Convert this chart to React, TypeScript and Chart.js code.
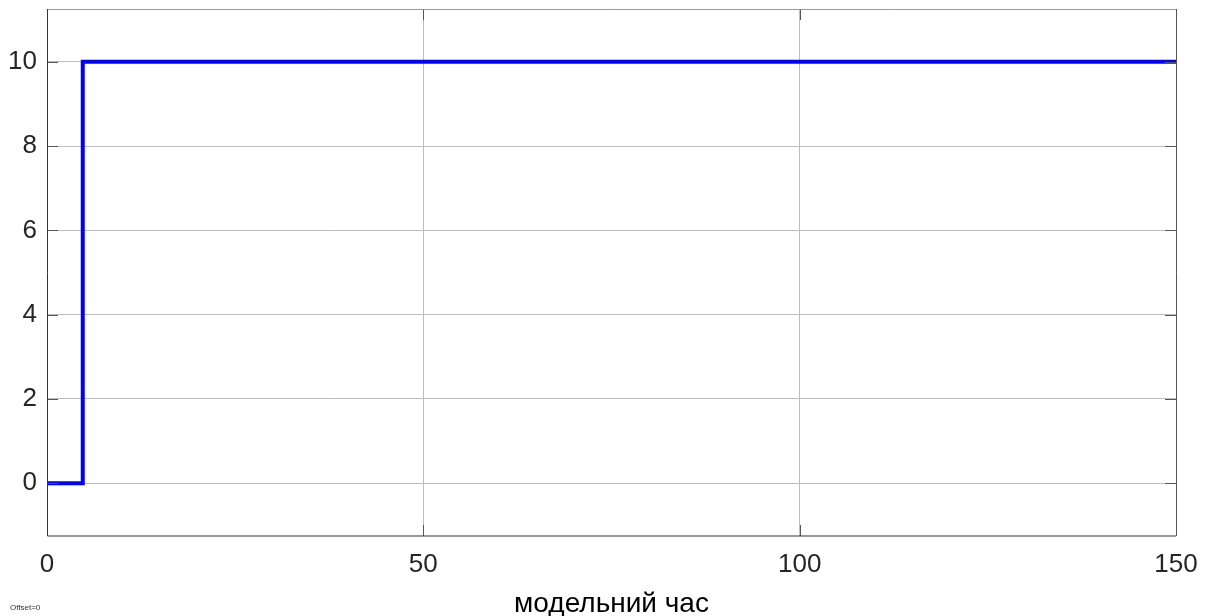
import React, { useEffect, useRef } from "react";
import { Chart, registerables } from "chart.js";

Chart.register(...registerables);

const stepX: number[] = [0, 4.75, 4.75, 150];
const stepY: number[] = [0, 0, 10, 10];
const xTicks: number[] = [0, 50, 100, 150];
const yTicks: number[] = [0, 2, 4, 6, 8, 10];
const xTitle = "модельний час";
const offsetNote = "Offset=0";

const boxPlugin = {
  id: "boxPlugin",
  afterDraw(chart: any) {
    const { ctx, chartArea } = chart;
    const { left, right, top, bottom } = chartArea;
    const xs = chart.scales.x;
    const ys = chart.scales.y;
    ctx.save();
    ctx.lineWidth = 1;
    ctx.strokeStyle = "#555555";
    ctx.beginPath();
    for (const t of yTicks) {
      const py = Math.round(ys.getPixelForValue(t)) + 0.5;
      ctx.moveTo(left, py);
      ctx.lineTo(left + 11, py);
      ctx.moveTo(right, py);
      ctx.lineTo(right - 11, py);
    }
    for (const t of xTicks) {
      const px = Math.round(xs.getPixelForValue(t)) + 0.5;
      ctx.moveTo(px, bottom);
      ctx.lineTo(px, bottom - 11);
      ctx.moveTo(px, top);
      ctx.lineTo(px, top + 11);
    }
    ctx.stroke();
    ctx.strokeStyle = "#9a9a9a";
    ctx.beginPath();
    ctx.moveTo(left, Math.round(top) + 0.5);
    ctx.lineTo(right, Math.round(top) + 0.5);
    ctx.stroke();
    ctx.strokeStyle = "#555555";
    ctx.beginPath();
    ctx.moveTo(Math.round(right) + 0.5, top);
    ctx.lineTo(Math.round(right) + 0.5, bottom);
    ctx.stroke();
    ctx.strokeStyle = "#333333";
    ctx.beginPath();
    ctx.moveTo(Math.round(left) + 0.5, top);
    ctx.lineTo(Math.round(left) + 0.5, bottom);
    ctx.lineTo(right, bottom);
    ctx.stroke();
    ctx.restore();
  },
};

export default function App() {
  const ref = useRef<HTMLCanvasElement | null>(null);
  useEffect(() => {
    document.body.style.margin = "0";
    const canvas = ref.current;
    if (!canvas) return;
    const chart = new Chart(canvas, {
      type: "line",
      data: {
        datasets: [
          {
            data: stepX.map((x, i) => ({ x, y: stepY[i] })),
            borderColor: "#0000ff",
            borderWidth: 4,
            pointRadius: 0,
            fill: false,
            tension: 0,
          },
        ],
      },
      options: {
        animation: false,
        responsive: false,
        devicePixelRatio: 1,
        plugins: { legend: { display: false }, tooltip: { enabled: false } },
        layout: { padding: { left: 0, top: 9, right: 37, bottom: 0 } },
        scales: {
          x: {
            type: "linear",
            min: 0,
            max: 150,
            afterBuildTicks: (s: any) => {
              s.ticks = xTicks.map((v) => ({ value: v }));
            },
            afterFit: (s: any) => {
              s.height = 80;
              s.paddingLeft = 0;
              s.paddingRight = 0;
            },
            grid: { color: "#bdbdbd", lineWidth: 1, drawTicks: false },
            border: { display: false },
            ticks: {
              color: "#262626",
              font: { family: "Liberation Sans, Arial, sans-serif", size: 26 },
              padding: 13,
              maxRotation: 0,
            },
            title: {
              display: true,
              text: xTitle,
              color: "#000000",
              font: { family: "Liberation Sans, Arial, sans-serif", size: 28 },
              padding: { top: 0, bottom: -5 },
            },
          },
          y: {
            type: "linear",
            min: -1.25,
            max: 11.25,
            afterBuildTicks: (s: any) => {
              s.ticks = yTicks.map((v) => ({ value: v }));
            },
            afterFit: (s: any) => {
              s.width = 47;
              s.paddingTop = 0;
              s.paddingBottom = 0;
            },
            grid: { color: "#bdbdbd", lineWidth: 1, drawTicks: false },
            border: { display: false },
            ticks: {
              color: "#262626",
              font: { family: "Liberation Sans, Arial, sans-serif", size: 26 },
              padding: 10,
            },
          },
        },
      },
      plugins: [boxPlugin],
    });
    return () => chart.destroy();
  }, []);
  return (
    <div style={{ position: "relative", width: 1213, height: 616, background: "#fff" }}>
      <canvas ref={ref} width={1213} height={616} style={{ display: "block" }} />
      <div
        style={{
          position: "absolute",
          left: 10,
          top: 603,
          fontFamily: "Liberation Sans, Arial, sans-serif",
          fontSize: 8,
          color: "#333",
        }}
      >
        {offsetNote}
      </div>
    </div>
  );
}
